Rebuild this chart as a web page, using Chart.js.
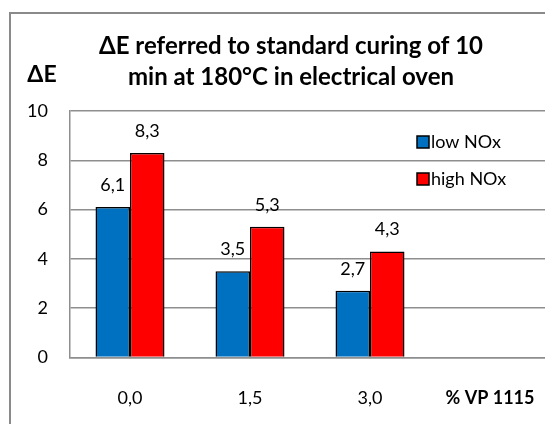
<!DOCTYPE html>
<html>
<head>
<meta charset="utf-8">
<script src="https://cdn.jsdelivr.net/npm/chart.js@4"></script>
<style>
    html, body { margin: 0; padding: 0; background: #fff; overflow: hidden; }
    #frame {
        position: absolute; left: 9px; top: 12px;
        width: 570px; height: 440px;
        border: 2px solid #8a8a8a;
    }
    #wrap { position: absolute; left: 0; top: 1px; width: 560px; height: 430px; }
</style>
</head>
<body>
<div id="frame"><div id="wrap"><canvas id="chart"></canvas></div></div>
<script>
const categories = ['0,0', '1,5', '3,0', '% VP 1115'];
const lowNox = [6.1, 3.5, 2.7, null];
const highNox = [8.3, 5.3, 4.3, null];
const titleLines = ['\u0394E referred to standard curing of 10', 'min at 180\u00b0C in electrical oven'];
const yTitle = '\u0394E';

const FONT = 'Lato, "Open Sans", sans-serif';
const gridColor = '#8e8e8e';

const fmt = v => v.toFixed(1).replace('.', ',');

// value labels above each bar
const valueLabels = {
    id: 'valueLabels',
    afterDatasetsDraw(chart) {
        const ctx = chart.ctx;
        ctx.save();
        ctx.font = '18px ' + FONT;
        ctx.fillStyle = '#000';
        ctx.textAlign = 'center';
        ctx.textBaseline = 'middle';
        chart.data.datasets.forEach((ds, i) => {
            chart.getDatasetMeta(i).data.forEach((bar, j) => {
                if (ds.data[j] == null) return;
                ctx.fillText(fmt(ds.data[j]), bar.x, bar.y - 22);
            });
        });
        ctx.restore();
    }
};

// legend inside the plot area, chart title and the y axis caption
const annotations = {
    id: 'annotations',
    afterDraw(chart) {
        const ctx = chart.ctx;
        ctx.save();
        ctx.font = '18px ' + FONT;
        ctx.textBaseline = 'middle';
        ctx.textAlign = 'left';
        chart.data.datasets.forEach((ds, i) => {
            const x = chart.chartArea.right - 133;
            const y = chart.chartArea.top + 31 + i * 37;
            ctx.fillStyle = ds.backgroundColor;
            ctx.fillRect(x, y - 6, 12, 12);
            ctx.strokeStyle = '#000';
            ctx.lineWidth = 1.5;
            ctx.strokeRect(x, y - 6, 12, 12);
            ctx.fillStyle = '#000';
            ctx.fillText(ds.label, x + 14, y);
        });
        ctx.font = 'bold 24px ' + FONT;
        ctx.textAlign = 'center';
        titleLines.forEach((line, i) => ctx.fillText(line, 280, 31 + i * 31));
        ctx.font = 'bold 23px ' + FONT;
        ctx.fillText(yTitle, 31, 60);
        ctx.restore();
    }
};

new Chart(document.getElementById('chart'), {
    type: 'bar',
    data: {
        labels: categories,
        datasets: [
            { label: 'low NOx', data: lowNox, backgroundColor: '#0070c0', borderColor: '#000', borderWidth: 1.5 },
            { label: 'high NOx', data: highNox, backgroundColor: '#ff0000', borderColor: '#000', borderWidth: 1.5 },
        ],
    },
    options: {
        responsive: true,
        maintainAspectRatio: false,
        animation: false,
        categoryPercentage: 0.575,
        barPercentage: 1,
        layout: { padding: { top: 96, left: 0, right: 21, bottom: 6 } },
        plugins: {
            legend: { display: false },
            tooltip: { enabled: false },
            title: { display: false },
        },
        scales: {
            x: {
                grid: { display: false, drawTicks: false },
                border: { display: true, color: gridColor, width: 1.5 },
                ticks: {
                    color: '#000',
                    padding: 30,
                    font: (c) => ({ family: FONT, size: 18, weight: c.index === 3 ? 'bold' : 'normal' }),
                },
            },
            y: {
                min: 0,
                max: 10,
                afterFit(scale) { scale.width = 59; },
                grid: { color: gridColor, lineWidth: 1.5, drawTicks: false },
                border: { display: true, color: gridColor, width: 1.5 },
                ticks: { stepSize: 2, color: '#000', padding: 22, font: { family: FONT, size: 18 } },
            },
        },
    },
    plugins: [valueLabels, annotations],
});
</script>
</body>
</html>
